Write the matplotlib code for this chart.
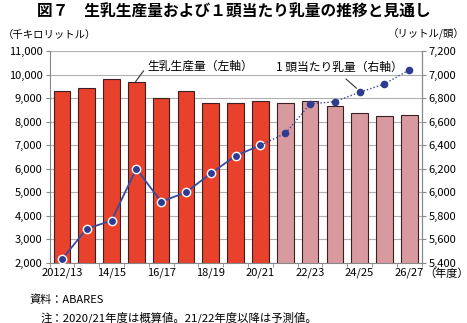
import numpy as np
import matplotlib
matplotlib.use("Agg")
from matplotlib import pyplot as plt

plt.rcParams['font.family'] = ['Noto Sans CJK JP', 'DejaVu Sans']

years = ['2012/13', '13/14', '14/15', '15/16', '16/17', '17/18', '18/19', '19/20',
         '20/21', '21/22', '22/23', '23/24', '24/25', '25/26', '26/27']
production = [9300, 9420, 9810, 9670, 9000, 9300, 8800, 8800,
              8880, 8780, 8880, 8680, 8380, 8240, 8270]
per_head = [5430, 5690, 5760, 6200, 5920, 6000, 6160, 6310,
            6400, 6500, 6750, 6770, 6850, 6920, 7040]
n_actual = 9  # up to 2020/21, the rest are forecasts

x = np.arange(len(years))
bar_colors = ['#e8412c'] * n_actual + ['#d99a9f'] * (len(years) - n_actual)

fig = plt.figure(figsize=(4.67, 3.23), dpi=100)
ax = fig.add_axes([0.106, 0.186, 0.797, 0.656])
ax.bar(x, production, width=0.67, color=bar_colors, edgecolor='#3a2020', linewidth=0.8, zorder=2)
ax.set_ylim(2000, 11000)
ax.set_xlim(-0.5, len(years) - 0.5)
ax.set_yticks(range(2000, 11001, 1000))
ax.set_yticklabels([f'{v:,}' for v in range(2000, 11001, 1000)])
ax.grid(axis='y', color='#b0b0b0', linewidth=0.8, zorder=0)
ax.set_xticks(x[::2])
ax.set_xticklabels(years[::2])
ax.set_xticks(np.arange(-0.5, len(years), 1), minor=True)
ax.tick_params(axis='x', which='major', length=0, labelsize=8, pad=3)
ax.tick_params(axis='x', which='minor', length=3, color='#888888')
ax.tick_params(axis='y', length=3, color='#888888', labelsize=8, pad=2)
ax.spines['top'].set_visible(False)
for s in ['left', 'bottom', 'right']:
    ax.spines[s].set_color('#888888')

ax2 = ax.twinx()
ax2.set_ylim(5400, 7200)
ax2.set_yticks(range(5400, 7201, 200))
ax2.set_yticklabels([f'{v:,}' for v in range(5400, 7201, 200)])
ax2.tick_params(axis='y', length=3, color='#888888', labelsize=8, pad=2)
for s in ['top', 'left', 'bottom']:
    ax2.spines[s].set_visible(False)
ax2.spines['right'].set_color('#888888')

ax2.plot(x[:n_actual], per_head[:n_actual], color='#3b4a9c', linewidth=1.3, zorder=3,
         marker='o', markersize=6, markerfacecolor='#2e3d8f', markeredgecolor='white',
         markeredgewidth=1.0)
ax2.plot(x[n_actual - 1:], per_head[n_actual - 1:], color='#3b4a9c', linewidth=1.0,
         linestyle=(0, (1, 1.5)), zorder=3)
ax2.plot(x[n_actual:], per_head[n_actual:], linestyle='none', marker='o', markersize=4.5,
         color='#2e3d8f', zorder=4)

# labels with leader lines
ax.annotate('生乳生産量（左軸）', xy=(2.97, 9700), xytext=(3.44, 10370),
            fontsize=8.5, va='center', ha='left',
            arrowprops=dict(arrowstyle='-', color='#333333', lw=0.8, shrinkA=1, shrinkB=0,
                            relpos=(0, 0.5)))
ax2.annotate('1 頭当たり乳量（右軸）', xy=(12.0, 6860), xytext=(8.64, 7065),
             fontsize=8.5, va='center', ha='left',
             arrowprops=dict(arrowstyle='-', color='#333333', lw=0.8, shrinkA=3, shrinkB=3,
                             relpos=(0.5, 0)))

fig.text(0.5, 0.963, '図７　生乳生産量および１頭当たり乳量の推移と見通し',
         ha='center', va='center', fontsize=11.3, fontweight='bold')
fig.text(0.005, 0.893, '（千キロリットル）', ha='left', va='center', fontsize=7.5)
fig.text(0.995, 0.893, '（リットル/頭）', ha='right', va='center', fontsize=7.5)
fig.text(0.908, 0.152, '（年度）', ha='left', va='center', fontsize=8)
fig.text(0.064, 0.071, '資料：ABARES', ha='left', va='center', fontsize=8)
fig.text(0.086, 0.017, '注：2020/21年度は概算値。21/22年度以降は予測値。', ha='left', va='center', fontsize=8.2)

fig.savefig('out.png', dpi=100)
